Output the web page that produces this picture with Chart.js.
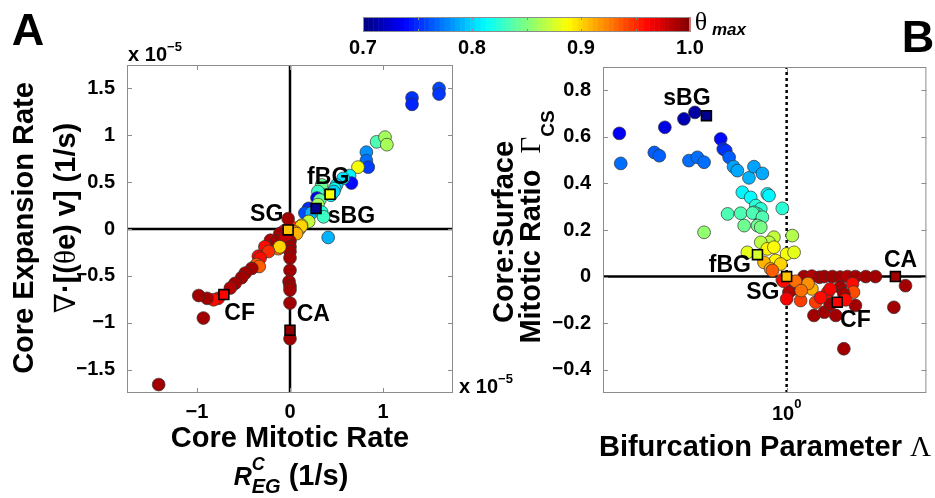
<!DOCTYPE html>
<html>
<head>
<meta charset="utf-8">
<script src="https://cdn.jsdelivr.net/npm/chart.js@4.4.1/dist/chart.umd.min.js"></script>
<style>
  body { margin: 0; background: #fff; }
  #fig { position: relative; width: 935px; height: 498px; overflow: hidden;
         font-family: "Liberation Sans", Arial, sans-serif; font-weight: bold; color: #000; }
  #fig canvas { position: absolute; top: 0; }
  .t { position: absolute; transform: translate(-50%, -50%); white-space: nowrap; line-height: 1; }
  .rot { transform: translate(-50%, -50%) rotate(-90deg); }
  .serif { font-family: "Liberation Serif", "DejaVu Serif", serif; font-weight: normal; }
  .sh { position: relative; }
</style>
</head>
<body>
<div id="fig">
  <canvas id="cbar" width="400" height="62" style="left:330px"></canvas>
  <canvas id="chartA" width="470" height="498" style="left:0"></canvas>
  <canvas id="chartB" width="465" height="498" style="left:470px"></canvas>

  <div class="t" style="left:28px;top:29px;font-size:45px">A</div>
  <div class="t" style="left:918px;top:36px;font-size:45px">B</div>

  <div class="t serif" style="left:701px;top:22px;font-size:26px">θ</div>
  <div class="t" style="left:729px;top:29px;font-size:17px;font-style:italic">max</div>

  <div class="t" style="left:155px;top:54px;font-size:20px">x 10<span class="sh" style="font-size:13px;top:-10px">−5</span></div>
  <div class="t" style="left:486px;top:386px;font-size:20px">x 10<span class="sh" style="font-size:13px;top:-10px">−5</span></div>

  <div class="t rot" style="left:23px;top:228px;font-size:29px">Core Expansion Rate</div>
  <div class="t rot" style="left:65px;top:218px;font-size:29px"><span class="serif">∇</span>·[(<span class="serif">θ</span>e) v] (1/s)</div>
  <div class="t" style="left:290px;top:437px;font-size:29px">Core Mitotic Rate</div>
  <div class="t" style="left:291px;top:475px;font-size:29px"><i style="font-size:25px">R</i><i class="sh" style="display:inline-block;width:0;font-size:18px;top:-15px">C</i><i class="sh" style="font-size:20px;top:8px">EG</i> (1/s)</div>

  <div class="t rot" style="left:503px;top:232px;font-size:29px">Core:Surface</div>
  <div class="t rot" style="left:530px;top:227px;font-size:29px">Mitotic Ratio <span class="serif" style="margin-left:8px">Γ</span><span class="sh" style="font-size:19px;top:14px">CS</span></div>
  <div class="t" style="left:765px;top:446px;font-size:29px">Bifurcation Parameter <span class="serif">Λ</span></div>
</div>

<script>
// colour scale (theta max)
const cbMin = 0.7, cbMax = 1.0;
const cbTicks = [0.7, 0.8, 0.9, 1.0];
const cbMinor = [0.75, 0.8, 0.85, 0.9, 0.95];

// panel A: core mitotic rate vs core expansion rate (x 1e-5 1/s)
const aXTicks = [-1, 0, 1];
const aYTicks = [-1.5, -1, -0.5, 0, 0.5, 1, 1.5];
const aRate = [1.31, 1.31, 1.60, 1.60, 0.93, 1.02, 1.04, 0.82, 0.82, 0.84, 0.73,
  0.64, 0.66, 0.57, 0.50, 0.48, 0.44, 0.47,
  0.34, 0.30, 0.29, 0.32, 0.30, 0.20, 0.16, 0.23, 0.34, 0.36, 0.20, 0.125, 0.09,
  0.41, 0.02, 0.10, 0.12,
  -0.02, 0.05, 0.07, -0.06, -0.11, -0.21, -0.14, 0, -0.05, 0, 0,
  -0.27, -0.34, -0.125, -0.11, -0.23, -0.32, -0.36, -0.33,
  -0.41, -0.48, -0.52, -0.59, -0.64, -0.77, -0.82, -0.89, -0.98, -0.93, -1.41,
  0, 0, -0.01, 0, 0, 0, 0];
const aExpansion = [1.40, 1.33, 1.50, 1.44, 0.93, 0.98, 0.90, 0.82, 0.73, 0.66, 0.66,
  0.57, 0.49, 0.54, 0.47, 0.43, 0.36, 0.40,
  0.47, 0.40, 0.33, 0.31, 0.26, 0.22, 0.17, 0.17, 0.18, 0.13, 0.08, 0.04, 0.01,
  -0.09, 0.02, 0.00, 0.03,
  0.11, -0.03, -0.05, -0.02, -0.05, -0.12, -0.13, -0.13, -0.08, -0.19, -0.24,
  -0.19, -0.29, -0.21, -0.19, -0.24, -0.31, -0.38, -0.40,
  -0.42, -0.47, -0.52, -0.58, -0.63, -0.74, -0.755, -0.74, -0.71, -0.95, -1.66,
  -0.31, -0.44, -0.56, -0.61, -0.65, -0.79, -1.17];
const aTheta = [0.752, 0.748, 0.758, 0.754, 0.835, 0.86, 0.862, 0.78, 0.77, 0.755, 0.885,
  0.81, 0.74, 0.805, 0.80, 0.815, 0.81, 0.80,
  0.845, 0.83, 0.735, 0.84, 0.86, 0.75, 0.76, 0.79, 0.825, 0.83, 0.87, 0.885, 0.9,
  0.79, 0.95, 0.92, 0.9,
  0.99, 0.925, 0.91, 0.96, 0.99, 0.985, 0.99, 0.99, 0.98, 0.99, 0.99,
  0.96, 0.96, 0.93, 0.9, 0.95, 0.96, 0.935, 0.935,
  0.99, 0.99, 0.99, 0.99, 0.985, 0.965, 0.96, 0.99, 0.99, 0.99, 0.99,
  0.99, 0.99, 0.99, 0.99, 0.99, 0.99, 0.99];

const markNames = ['SG', 'fBG', 'sBG', 'CF', 'CA'];
const aMarkRate = [-0.02, 0.43, 0.28, -0.71, 0];
const aMarkExpansion = [-0.01, 0.37, 0.22, -0.70, -1.08];
const aMarkTheta = [0.905, 0.885, 0.705, 0.962, 0.995];
const aTagRate = [-0.25, 0.41, 0.66, -0.54, 0.25];
const aTagExpansion = [0.15, 0.55, 0.13, -0.90, -0.91];

// panel B: bifurcation parameter vs core:surface mitotic ratio
const bXTicks = [1];
const bYTicks = [-0.4, -0.2, 0, 0.2, 0.4, 0.6, 0.8];
const bLambda = [0.334, 0.337, 0.42, 0.434, 0.45, 0.51, 0.548, 0.527, 0.557, 0.582,
  0.649, 0.66, 0.671, 0.686, 0.706, 0.724, 0.781, 0.807, 0.853,
  0.748, 0.79, 0.881, 0.891, 0.817, 0.844, 0.826, 0.807, 0.972,
  0.679, 0.740, 0.80, 0.853, 0.757, 0.826, 0.844, 0.582,
  0.92, 0.891, 0.844, 1.038, 0.773, 0.881, 0.92, 0.93, 1.0, 1.05,
  0.862, 0.90, 0.962, 0.911, 0.972,
  1.12, 1.18, 1.24, 1.28, 1.35, 1.42, 1.49, 1.57, 1.68, 1.79,
  2.18, 2.02, 1.455, 1.05, 1.015, 1.12, 1.0, 1.096, 1.21, 1.18, 1.15, 1.31,
  1.54, 1.196, 1.28, 1.38, 1.33, 1.57, 1.55, 1.42, 1.455, 1.33, 1.47, 1.25,
  0.98, 1.06, 1.10];
const bGamma = [0.615, 0.486, 0.533, 0.519, 0.641, 0.677, 0.705, 0.498, 0.512, 0.491,
  0.591, 0.548, 0.541, 0.512, 0.472, 0.455, 0.424, 0.472, 0.443,
  0.362, 0.340, 0.355, 0.348, 0.305, 0.291, 0.269, 0.276, 0.293,
  0.269, 0.272, 0.273, 0.255, 0.219, 0.219, 0.212, 0.19,
  0.169, 0.147, 0.147, 0.176, 0.104, 0.119, 0.126, 0.069, 0.097, 0.104,
  0.061, 0.033, 0.054, 0.026, -0.014,
  0.0, 0.002, -0.003, 0.0, 0.0, -0.002, 0.0, 0.0, 0.0, 0.0,
  -0.039, -0.132, -0.31, -0.053, -0.067, -0.039, -0.096, -0.103, -0.11, -0.053, -0.03, -0.067,
  -0.031, -0.167, -0.153, -0.167, -0.12, -0.124, -0.067, -0.046, -0.074, -0.053, -0.1, -0.09,
  -0.02, -0.02, -0.06];
const bTheta = [0.735, 0.77, 0.765, 0.765, 0.73, 0.715, 0.71, 0.77, 0.77, 0.77,
  0.74, 0.75, 0.752, 0.765, 0.785, 0.787, 0.79, 0.785, 0.787,
  0.81, 0.812, 0.81, 0.81, 0.825, 0.825, 0.83, 0.83, 0.825,
  0.835, 0.835, 0.835, 0.835, 0.845, 0.845, 0.848, 0.855,
  0.87, 0.868, 0.868, 0.865, 0.88, 0.89, 0.888, 0.89, 0.885, 0.88,
  0.91, 0.915, 0.9, 0.935, 0.955,
  0.99, 0.985, 0.99, 0.99, 0.99, 0.99, 0.985, 0.99, 0.99, 0.99,
  0.99, 0.99, 0.99, 0.99, 0.985, 0.99, 0.965, 0.945, 0.945, 0.91, 0.92, 0.96,
  0.96, 0.99, 0.99, 0.99, 0.99, 0.99, 0.94, 0.99, 0.99, 0.965, 0.96, 0.96,
  0.96, 0.93, 0.93];

const bMarkLambda = [1.0, 0.826, 0.591, 1.393, 2.04];
const bMarkGamma = [0.0, 0.094, 0.691, -0.110, 0.0];
const bMarkTheta = [0.905, 0.875, 0.705, 0.962, 0.99];
const bTagLambda = [0.855, 0.689, 0.52, 1.57, 2.11];
const bTagGamma = [-0.069, 0.047, 0.764, -0.189, 0.069];

const FONT = '"Liberation Sans", Arial, sans-serif';
Chart.defaults.font.family = FONT;
Chart.defaults.font.size = 20;
Chart.defaults.font.weight = 'bold';
Chart.defaults.color = '#000';
const tickFont = { family: FONT, size: 20, weight: 'bold' };

// matlab jet colormap
function jet(v) {
  const t = Math.min(Math.max((v - cbMin) / (cbMax - cbMin), 0), 1);
  const c = k => Math.round(255 * Math.min(Math.max(1.5 - Math.abs(4 * t - k), 0), 1));
  return 'rgb(' + c(3) + ',' + c(2) + ',' + c(1) + ')';
}

const fmt = v => (v < 0 ? '\u2212' + Math.abs(v) : String(v));
const pts = (xs, ys) => xs.map((x, i) => ({ x: x, y: ys[i] }));

function dots(xs, ys, th) {
  return { data: pts(xs, ys), backgroundColor: th.map(jet), borderColor: '#333',
           borderWidth: 0.7, pointRadius: 6.4, order: 1 };
}
function squares(xs, ys, th) {
  return { data: pts(xs, ys), backgroundColor: th.map(jet), borderColor: '#000',
           borderWidth: 1.6, pointRadius: 7, pointStyle: 'rect', order: 0 };
}
function refLine(xs, ys, dash) {
  return { data: pts(xs, ys), showLine: true, borderColor: '#000', borderWidth: 2.5,
           borderDash: dash || [], pointRadius: 0, order: 5 };
}

// axes box with inward ticks, matlab style
const frame = {
  id: 'frame',
  afterDatasetsDraw(chart) {
    const { ctx, chartArea: a, scales } = chart;
    ctx.save();
    ctx.strokeStyle = '#8c8c8c';
    ctx.lineWidth = 1;
    ctx.strokeRect(a.left + 0.5, a.top + 0.5, a.width - 1, a.height - 1);
    ctx.beginPath();
    scales.x.ticks.forEach(t => {
      const p = Math.round(scales.x.getPixelForValue(t.value)) + 0.5;
      ctx.moveTo(p, a.bottom); ctx.lineTo(p, a.bottom - 5);
      ctx.moveTo(p, a.top); ctx.lineTo(p, a.top + 5);
    });
    scales.y.ticks.forEach(t => {
      const p = Math.round(scales.y.getPixelForValue(t.value)) + 0.5;
      ctx.moveTo(a.left, p); ctx.lineTo(a.left + 5, p);
      ctx.moveTo(a.right, p); ctx.lineTo(a.right - 5, p);
    });
    ctx.stroke();
    ctx.restore();
  }
};

function tags(names, xs, ys) {
  return {
    id: 'tags',
    afterDatasetsDraw(chart) {
      const { ctx, scales } = chart;
      ctx.save();
      ctx.font = 'bold 23px ' + FONT;
      ctx.fillStyle = '#000';
      ctx.textAlign = 'center';
      ctx.textBaseline = 'middle';
      names.forEach((n, i) => ctx.fillText(n, scales.x.getPixelForValue(xs[i]), scales.y.getPixelForValue(ys[i])));
      ctx.restore();
    }
  };
}

// "10^0" style labels for the log axis
const powTicks = {
  id: 'powTicks',
  afterDraw(chart) {
    const { ctx, chartArea: a, scales } = chart;
    ctx.save();
    ctx.fillStyle = '#000';
    ctx.textAlign = 'left';
    ctx.textBaseline = 'alphabetic';
    bXTicks.forEach(v => {
      const e = String(Math.round(Math.log10(v)));
      ctx.font = 'bold 20px ' + FONT;
      const w = ctx.measureText('10').width;
      ctx.font = 'bold 13px ' + FONT;
      const w2 = ctx.measureText(e).width;
      const x0 = scales.x.getPixelForValue(v) - (w + w2) / 2;
      ctx.font = 'bold 20px ' + FONT;
      ctx.fillText('10', x0, a.bottom + 27);
      ctx.font = 'bold 13px ' + FONT;
      ctx.fillText(e, x0 + w, a.bottom + 15);
    });
    ctx.restore();
  }
};

const baseOpts = (pad) => ({
  responsive: false,
  animation: false,
  events: [],
  layout: { padding: pad },
  plugins: { legend: { display: false }, tooltip: { enabled: false } }
});

// panel A
const optA = baseOpts({ left: 77, right: 17, top: 65, bottom: 75 });
optA.scales = {
  x: { type: 'linear', min: -1.75, max: 1.75,
       afterBuildTicks: s => { s.ticks = aXTicks.map(v => ({ value: v })); },
       afterFit: s => { s.height = 30; },
       grid: { display: false }, border: { display: false },
       ticks: { padding: -1, font: tickFont, callback: fmt } },
  y: { type: 'linear', min: -1.75, max: 1.75,
       afterBuildTicks: s => { s.ticks = aYTicks.map(v => ({ value: v })); },
       afterFit: s => { s.width = 50; },
       grid: { display: false }, border: { display: false },
       ticks: { padding: 4, font: tickFont, callback: fmt } }
};
new Chart(document.getElementById('chartA'), {
  type: 'scatter',
  data: { datasets: [
    refLine([-1.75, 1.75], [0, 0]),
    refLine([0, 0], [-1.75, 1.75]),
    dots(aRate, aExpansion, aTheta),
    squares(aMarkRate, aMarkExpansion, aMarkTheta)
  ] },
  options: optA,
  plugins: [frame, tags(markNames, aTagRate, aTagExpansion)]
});

// panel B
const optB = baseOpts({ left: 83, right: 8, top: 67, bottom: 75 });
optB.scales = {
  x: { type: 'logarithmic', min: 0.3, max: 2.5,
       afterBuildTicks: s => { s.ticks = bXTicks.map(v => ({ value: v })); },
       afterFit: s => { s.height = 30; },
       grid: { display: false }, border: { display: false },
       ticks: { callback: () => '' } },
  y: { type: 'linear', min: -0.5, max: 0.9,
       afterBuildTicks: s => { s.ticks = bYTicks.map(v => ({ value: v })); },
       afterFit: s => { s.width = 50; },
       grid: { display: false }, border: { display: false },
       ticks: { padding: 4, font: tickFont, callback: fmt } }
};
new Chart(document.getElementById('chartB'), {
  type: 'scatter',
  data: { datasets: [
    refLine([0.3, 2.5], [0, 0]),
    refLine([1, 1], [-0.5, 0.9], [3, 3]),
    dots(bLambda, bGamma, bTheta),
    squares(bMarkLambda, bMarkGamma, bMarkTheta)
  ] },
  options: optB,
  plugins: [frame, tags(markNames, bTagLambda, bTagGamma), powTicks]
});

// colour bar
const cbarFill = {
  id: 'cbarFill',
  beforeDatasetsDraw(chart) {
    const { ctx, chartArea: a, scales: { x } } = chart;
    ctx.save();
    const n = 64;
    for (let i = 0; i < n; i++) {
      const v0 = cbMin + (cbMax - cbMin) * i / n, v1 = cbMin + (cbMax - cbMin) * (i + 1) / n;
      const p0 = x.getPixelForValue(v0), p1 = x.getPixelForValue(v1);
      ctx.fillStyle = jet((v0 + v1) / 2);
      ctx.fillRect(p0, a.top, p1 - p0 + 0.5, a.height);
    }
    ctx.strokeStyle = '#8c8c8c';
    ctx.lineWidth = 1;
    ctx.strokeRect(a.left + 0.5, a.top + 0.5, a.width - 1, a.height - 1);
    ctx.beginPath();
    cbMinor.forEach(v => {
      const p = Math.round(x.getPixelForValue(v)) + 0.5;
      ctx.moveTo(p, a.top); ctx.lineTo(p, a.top + 3);
      ctx.moveTo(p, a.bottom); ctx.lineTo(p, a.bottom - 3);
    });
    ctx.stroke();
    ctx.restore();
  }
};
const optC = baseOpts({ left: 33, right: 40, top: 17, bottom: 0 });
optC.scales = {
  x: { type: 'linear', min: cbMin, max: cbMax,
       afterBuildTicks: s => { s.ticks = cbTicks.map(v => ({ value: v })); },
       afterFit: s => { s.height = 30; },
       grid: { display: false }, border: { display: false },
       ticks: { padding: -4, font: tickFont, callback: v => v.toFixed(1) } },
  y: { display: false, min: 0, max: 1 }
};
new Chart(document.getElementById('cbar'), {
  type: 'scatter',
  data: { datasets: [{ data: [] }] },
  options: optC,
  plugins: [cbarFill]
});
</script>
</body>
</html>
